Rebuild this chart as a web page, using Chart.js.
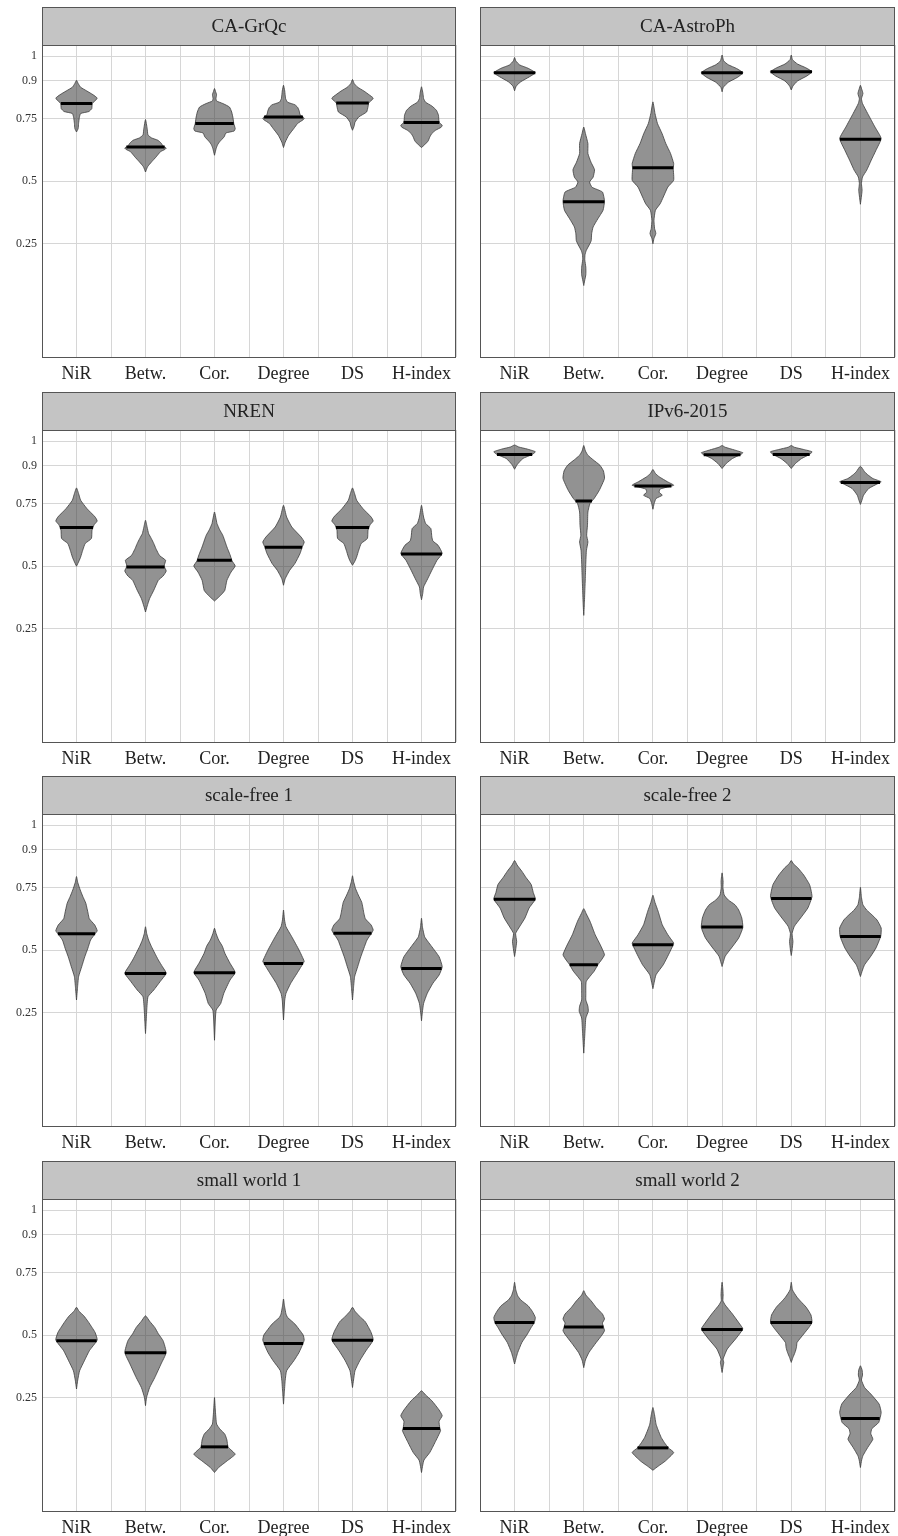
<!DOCTYPE html>
<html>
<head>
<meta charset="utf-8">
<script src="https://cdn.jsdelivr.net/npm/chart.js@4.4.1/dist/chart.umd.min.js"></script>
<style>
  body { margin: 0; background: #fff; overflow: hidden; }
  #wrap { position: relative; width: 898px; height: 1536px; }
  #wrap canvas { position: absolute; }
</style>
</head>
<body>
<div id="wrap"></div>
<script>
// categories and y ticks
const metrics = ['NiR', 'Betw.', 'Cor.', 'Degree', 'DS', 'H-index'];
const yTickValues = [0.25, 0.5, 0.75, 0.9, 1];
const yTickLabels = ['0.25', '0.5', '0.75', '0.9', '1'];
const panelTitles = ['CA-GrQc', 'CA-AstroPh', 'NREN', 'IPv6-2015', 'scale-free 1', 'scale-free 2', 'small world 1', 'small world 2'];

// violin outlines: [value, relative density], bottom tip -> top tip
const grqcShapes = [
  [[0.696,0],[0.71,0.08],[0.73,0.1],[0.755,0.14],[0.77,0.2],[0.778,0.6],[0.79,0.74],[0.81,0.76],[0.825,0.95],[0.832,1.0],[0.845,0.8],[0.86,0.5],[0.875,0.2],[0.89,0.08],[0.903,0]],
  [[0.536,0],[0.557,0.1],[0.577,0.3],[0.597,0.52],[0.617,0.72],[0.627,0.95],[0.632,1.0],[0.64,0.85],[0.652,0.75],[0.663,0.6],[0.672,0.3],[0.684,0.12],[0.71,0.08],[0.746,0]],
  [[0.603,0],[0.63,0.08],[0.645,0.15],[0.657,0.25],[0.677,0.47],[0.692,0.55],[0.70,0.95],[0.71,1.0],[0.73,0.93],[0.75,0.9],[0.776,0.83],[0.796,0.72],[0.81,0.4],[0.82,0.1],[0.83,0.07],[0.845,0.1],[0.858,0.05],[0.870,0]],
  [[0.634,0],[0.655,0.08],[0.683,0.25],[0.71,0.5],[0.73,0.68],[0.745,0.95],[0.752,1.0],[0.765,0.8],[0.78,0.76],[0.795,0.68],[0.805,0.55],[0.815,0.2],[0.83,0.1],[0.86,0.06],[0.883,0]],
  [[0.703,0],[0.72,0.08],[0.735,0.12],[0.756,0.3],[0.776,0.68],[0.797,0.75],[0.812,0.78],[0.825,0.95],[0.832,1.0],[0.845,0.8],[0.86,0.55],[0.875,0.25],[0.89,0.08],[0.906,0]],
  [[0.634,0],[0.645,0.15],[0.66,0.32],[0.676,0.4],[0.69,0.5],[0.703,0.68],[0.715,0.95],[0.723,1.0],[0.735,0.85],[0.763,0.82],[0.783,0.72],[0.80,0.5],[0.815,0.2],[0.83,0.1],[0.85,0.07],[0.877,0]]
];
const grqcMedians = [0.81, 0.636, 0.730, 0.756, 0.8125, 0.734];

const astroShapes = [
  [[0.861,0],[0.88,0.08],[0.897,0.3],[0.917,0.72],[0.933,1.0],[0.951,0.65],[0.964,0.25],[0.98,0.06],[0.994,0]],
  [[0.082,0],[0.10,0.04],[0.125,0.1],[0.155,0.1],[0.185,0.05],[0.205,0.06],[0.222,0.12],[0.25,0.3],[0.262,0.36],[0.289,0.38],[0.316,0.45],[0.349,0.68],[0.383,0.93],[0.42,1.0],[0.456,0.9],[0.475,0.4],[0.496,0.28],[0.515,0.45],[0.545,0.52],[0.575,0.35],[0.610,0.2],[0.650,0.2],[0.690,0.08],[0.716,0]],
  [[0.249,0],[0.27,0.05],[0.29,0.14],[0.31,0.08],[0.343,0.05],[0.383,0.12],[0.409,0.35],[0.436,0.5],[0.476,0.72],[0.503,1.0],[0.55,0.98],[0.57,1.0],[0.61,0.85],[0.65,0.62],[0.69,0.44],[0.73,0.22],[0.77,0.1],[0.8165,0]],
  [[0.857,0],[0.875,0.06],[0.895,0.3],[0.915,0.75],[0.933,1.0],[0.95,0.7],[0.965,0.3],[0.98,0.08],[1.004,0]],
  [[0.864,0],[0.88,0.08],[0.9,0.3],[0.92,0.75],[0.937,1.0],[0.953,0.7],[0.968,0.3],[0.985,0.06],[1.004,0]],
  [[0.407,0],[0.44,0.05],[0.463,0.08],[0.49,0.05],[0.516,0.1],[0.543,0.3],[0.583,0.52],[0.623,0.75],[0.67,1.0],[0.716,0.7],[0.77,0.35],[0.81,0.1],[0.829,0.05],[0.85,0.12],[0.868,0.06],[0.883,0]]
];
const astroMedians = [0.933, 0.4175, 0.5535, 0.933, 0.937, 0.6675];

const nrenShapes = [
  [[0.499,0],[0.52,0.12],[0.536,0.2],[0.563,0.3],[0.59,0.42],[0.61,0.72],[0.643,0.75],[0.665,0.85],[0.68,1.0],[0.696,0.9],[0.73,0.5],[0.763,0.2],[0.79,0.1],[0.8125,0]],
  [[0.316,0],[0.34,0.08],[0.37,0.2],[0.403,0.4],[0.443,0.62],[0.46,0.85],[0.48,1.0],[0.50,0.9],[0.523,0.97],[0.54,0.7],[0.55,0.62],[0.57,0.5],[0.59,0.4],[0.61,0.28],[0.63,0.15],[0.655,0.08],[0.683,0]],
  [[0.36,0],[0.375,0.2],[0.39,0.38],[0.403,0.5],[0.443,0.6],[0.476,0.8],[0.5,1.0],[0.52,0.85],[0.545,0.75],[0.576,0.6],[0.6,0.5],[0.623,0.4],[0.645,0.25],[0.67,0.12],[0.716,0]],
  [[0.423,0],[0.449,0.08],[0.483,0.3],[0.51,0.55],[0.55,0.8],[0.575,0.9],[0.596,1.0],[0.616,0.85],[0.656,0.4],[0.696,0.15],[0.743,0]],
  [[0.503,0],[0.52,0.12],[0.536,0.2],[0.563,0.3],[0.59,0.42],[0.61,0.72],[0.643,0.75],[0.665,0.85],[0.68,1.0],[0.696,0.9],[0.73,0.5],[0.763,0.2],[0.79,0.1],[0.8125,0]],
  [[0.365,0],[0.39,0.06],[0.416,0.1],[0.449,0.3],[0.483,0.5],[0.523,0.75],[0.55,1.0],[0.583,0.8],[0.60,0.55],[0.616,0.5],[0.65,0.45],[0.67,0.2],[0.696,0.1],[0.743,0]]
];
const nrenMedians = [0.654, 0.496, 0.523, 0.575, 0.654, 0.5485];

const ipv6Shapes = [
  [[0.887,0],[0.905,0.12],[0.93,0.4],[0.946,0.85],[0.957,1.0],[0.968,0.6],[0.976,0.2],[0.984,0]],
  [[0.3025,0],[0.35,0.03],[0.396,0.05],[0.463,0.08],[0.516,0.1],[0.563,0.13],[0.596,0.2],[0.623,0.14],[0.663,0.18],[0.716,0.2],[0.75,0.3],[0.77,0.5],[0.803,0.75],[0.85,1.0],[0.88,0.95],[0.903,0.78],[0.925,0.45],[0.943,0.2],[0.96,0.08],[0.982,0]],
  [[0.727,0],[0.75,0.06],[0.77,0.15],[0.783,0.45],[0.795,0.3],[0.808,0.35],[0.823,1.0],[0.837,0.7],[0.857,0.3],[0.87,0.12],[0.886,0]],
  [[0.89,0],[0.91,0.2],[0.93,0.5],[0.946,0.9],[0.953,1.0],[0.964,0.6],[0.975,0.15],[0.982,0]],
  [[0.89,0],[0.91,0.2],[0.93,0.5],[0.947,0.9],[0.957,1.0],[0.966,0.6],[0.975,0.15],[0.982,0]],
  [[0.7465,0],[0.765,0.08],[0.783,0.15],[0.81,0.4],[0.83,0.85],[0.837,1.0],[0.85,0.6],[0.865,0.35],[0.877,0.2],[0.8995,0]]
];
const ipv6Medians = [0.946, 0.760, 0.8205, 0.9455, 0.9465, 0.8345];

const sf1Shapes = [
  [[0.30,0],[0.35,0.05],[0.393,0.1],[0.433,0.25],[0.473,0.4],[0.507,0.55],[0.54,0.68],[0.565,0.9],[0.577,1.0],[0.60,0.88],[0.625,0.62],[0.647,0.56],[0.687,0.45],[0.715,0.3],[0.74,0.18],[0.77,0.06],[0.794,0]],
  [[0.166,0],[0.21,0.03],[0.26,0.06],[0.313,0.12],[0.34,0.4],[0.373,0.7],[0.407,1.0],[0.433,0.82],[0.46,0.62],[0.487,0.45],[0.515,0.28],[0.54,0.15],[0.565,0.06],[0.593,0]],
  [[0.139,0],[0.18,0.02],[0.22,0.04],[0.26,0.08],[0.286,0.3],[0.327,0.45],[0.38,0.75],[0.41,1.0],[0.447,0.75],[0.487,0.5],[0.515,0.38],[0.54,0.2],[0.565,0.08],[0.587,0]],
  [[0.22,0],[0.26,0.03],[0.3,0.06],[0.327,0.12],[0.367,0.35],[0.413,0.7],[0.447,0.95],[0.455,1.0],[0.50,0.75],[0.553,0.4],[0.593,0.12],[0.62,0.05],[0.66,0]],
  [[0.30,0],[0.35,0.05],[0.393,0.1],[0.433,0.25],[0.473,0.4],[0.507,0.55],[0.54,0.7],[0.567,0.92],[0.58,1.0],[0.60,0.9],[0.625,0.62],[0.647,0.55],[0.69,0.45],[0.72,0.28],[0.745,0.15],[0.775,0.05],[0.797,0]],
  [[0.217,0],[0.25,0.04],[0.286,0.1],[0.327,0.28],[0.367,0.55],[0.40,0.85],[0.433,1.0],[0.473,0.85],[0.513,0.5],[0.535,0.3],[0.553,0.15],[0.59,0.05],[0.627,0]]
];
const sf1Medians = [0.565, 0.4065, 0.409, 0.4465, 0.567, 0.4265];

const sf2Shapes = [
  [[0.474,0],[0.50,0.05],[0.534,0.1],[0.566,0.05],[0.588,0.2],[0.628,0.5],[0.668,0.7],[0.703,1.0],[0.73,0.9],[0.762,0.8],[0.79,0.55],[0.815,0.35],[0.84,0.12],[0.858,0]],
  [[0.0875,0],[0.13,0.03],[0.175,0.06],[0.228,0.1],[0.255,0.22],[0.275,0.2],[0.30,0.1],[0.321,0.1],[0.374,0.12],[0.415,0.5],[0.441,0.68],[0.46,0.85],[0.481,1.0],[0.52,0.8],[0.561,0.55],[0.615,0.3],[0.645,0.12],[0.6655,0]],
  [[0.3455,0],[0.37,0.06],[0.401,0.15],[0.441,0.5],[0.481,0.75],[0.521,0.98],[0.528,1.0],[0.561,0.72],[0.601,0.45],[0.655,0.25],[0.69,0.1],[0.719,0]],
  [[0.434,0],[0.475,0.15],[0.508,0.45],[0.548,0.8],[0.59,1.0],[0.628,0.95],[0.66,0.8],[0.681,0.62],[0.70,0.3],[0.72,0.1],[0.75,0.04],[0.775,0.05],[0.8085,0]],
  [[0.478,0],[0.50,0.04],[0.534,0.08],[0.566,0.04],[0.595,0.15],[0.628,0.45],[0.668,0.8],[0.713,1.0],[0.74,0.95],[0.762,0.88],[0.80,0.6],[0.83,0.3],[0.845,0.1],[0.858,0]],
  [[0.394,0],[0.42,0.1],[0.441,0.2],[0.475,0.5],[0.508,0.75],[0.555,0.98],[0.588,1.0],[0.62,0.8],[0.641,0.55],[0.66,0.3],[0.681,0.12],[0.71,0.05],[0.751,0]]
];
const sf2Medians = [0.703, 0.441, 0.521, 0.592, 0.7065, 0.5545];

const sw1Shapes = [
  [[0.284,0],[0.32,0.06],[0.357,0.15],[0.397,0.38],[0.437,0.62],[0.48,1.0],[0.51,0.9],[0.53,0.75],[0.555,0.55],[0.577,0.35],[0.595,0.12],[0.611,0]],
  [[0.2175,0],[0.25,0.05],[0.29,0.2],[0.33,0.45],[0.384,0.75],[0.43,1.0],[0.477,0.85],[0.505,0.62],[0.53,0.45],[0.555,0.2],[0.577,0]],
  [[-0.05,0],[-0.03,0.2],[-0.004,0.6],[0.023,1.0],[0.04,0.8],[0.053,0.65],[0.08,0.6],[0.103,0.5],[0.125,0.25],[0.144,0.1],[0.2,0.04],[0.25,0]],
  [[0.2235,0],[0.27,0.04],[0.317,0.08],[0.357,0.15],[0.397,0.5],[0.43,0.75],[0.467,0.95],[0.48,1.0],[0.50,0.95],[0.544,0.55],[0.57,0.2],[0.584,0.12],[0.615,0.05],[0.644,0]],
  [[0.29,0],[0.32,0.05],[0.357,0.12],[0.397,0.35],[0.437,0.65],[0.48,1.0],[0.51,0.9],[0.53,0.78],[0.555,0.6],[0.57,0.4],[0.595,0.12],[0.611,0]],
  [[-0.05,0],[-0.02,0.06],[0.0,0.12],[0.03,0.4],[0.07,0.65],[0.117,0.92],[0.13,0.88],[0.155,0.85],[0.177,1.0],[0.2,0.85],[0.237,0.5],[0.26,0.2],[0.277,0]]
];
const sw1Medians = [0.477, 0.429, 0.0525, 0.4665, 0.479, 0.126];

const sw2Shapes = [
  [[0.384,0],[0.41,0.08],[0.43,0.15],[0.47,0.35],[0.504,0.62],[0.53,0.8],[0.55,0.95],[0.57,1.0],[0.595,0.85],[0.617,0.65],[0.64,0.3],[0.657,0.15],[0.68,0.06],[0.711,0]],
  [[0.3695,0],[0.40,0.08],[0.43,0.25],[0.47,0.6],[0.50,0.88],[0.517,1.0],[0.532,0.95],[0.548,0.9],[0.564,1.0],[0.584,0.9],[0.61,0.6],[0.637,0.35],[0.66,0.1],[0.6775,0]],
  [[-0.041,0],[-0.025,0.25],[-0.004,0.6],[0.03,1.0],[0.048,0.75],[0.07,0.55],[0.09,0.4],[0.12,0.25],[0.1435,0.15],[0.18,0.08],[0.21,0]],
  [[0.35,0],[0.375,0.05],[0.39,0.08],[0.404,0.05],[0.444,0.25],[0.484,0.65],[0.524,1.0],[0.544,0.85],[0.584,0.5],[0.62,0.15],[0.637,0.04],[0.66,0.05],[0.69,0.03],[0.711,0]],
  [[0.3905,0],[0.41,0.08],[0.43,0.18],[0.45,0.25],[0.47,0.28],[0.504,0.6],[0.53,0.85],[0.55,1.0],[0.58,0.95],[0.611,0.72],[0.635,0.45],[0.651,0.28],[0.68,0.06],[0.711,0]],
  [[-0.03,0],[0.0,0.06],[0.017,0.12],[0.05,0.35],[0.083,0.6],[0.105,0.5],[0.125,0.55],[0.15,0.88],[0.19,1.0],[0.224,0.9],[0.264,0.5],[0.29,0.2],[0.32,0.05],[0.34,0.1],[0.36,0.08],[0.377,0]]
];
const sw2Medians = [0.5505, 0.532, 0.0485, 0.5225, 0.5505, 0.166];

const panelShapes = [grqcShapes, astroShapes, nrenShapes, ipv6Shapes, sf1Shapes, sf2Shapes, sw1Shapes, sw2Shapes];
const panelMedians = [grqcMedians, astroMedians, nrenMedians, ipv6Medians, sf1Medians, sf2Medians, sw1Medians, sw2Medians];

// look & layout
const maxHalf = 0.3;          // half violin width, in category units
const serif = '"Liberation Serif", "Times New Roman", serif';
const rowStep = 384.5;
const headerH = 38;

// density at a value, linear between outline points
function widthAt(shape, v) {
  for (let k = 1; k < shape.length; k++) {
    const a = shape[k - 1], b = shape[k];
    if (v >= a[0] && v <= b[0]) {
      return a[1] + (b[1] - a[1]) * (v - a[0]) / (b[0] - a[0]);
    }
  }
  return 0;
}

function outline(shape, c) {
  const pts = shape.map(p => ({x: c + p[1] * maxHalf, y: p[0]}));
  for (let k = shape.length - 2; k >= 0; k--) {
    pts.push({x: c - shape[k][1] * maxHalf, y: shape[k][0]});
  }
  return pts;
}

// gray header strip with the title, and the frame round the plot
const stripPlugin = {
  id: 'strip',
  beforeDraw(chart, args, opts) {
    const {ctx, chartArea: a} = chart;
    ctx.save();
    ctx.fillStyle = '#c4c4c4';
    ctx.fillRect(a.left, a.top - headerH, a.right - a.left, headerH);
    ctx.strokeStyle = '#555';
    ctx.lineWidth = 1;
    ctx.strokeRect(a.left + 0.5, a.top - headerH + 0.5, a.right - a.left - 1, headerH);
    ctx.fillStyle = '#222';
    ctx.font = '19px ' + serif;
    ctx.textAlign = 'center';
    ctx.textBaseline = 'middle';
    ctx.fillText(opts.title, (a.left + a.right) / 2, a.top - headerH / 2 + 1);
    ctx.restore();
  },
  afterDraw(chart) {
    const {ctx, chartArea: a} = chart;
    ctx.save();
    ctx.strokeStyle = '#555';
    ctx.lineWidth = 1;
    ctx.strokeRect(a.left + 0.5, a.top + 0.5, a.right - a.left - 1, a.bottom - a.top);
    ctx.restore();
  }
};

const wrap = document.getElementById('wrap');

panelTitles.forEach((title, p) => {
  const col = p % 2, row = Math.floor(p / 2);
  const canvas = document.createElement('canvas');
  const cw = col === 0 ? 460 : 449;
  canvas.width = cw;
  canvas.height = 384;
  canvas.style.left = (col === 0 ? 0 : 449) + 'px';
  canvas.style.top = Math.round(row * rowStep) + 'px';
  wrap.appendChild(canvas);

  const yWidth = col === 0 ? 42 : 31;
  const padRight = col === 0 ? 4 : 3;

  const shapes = panelShapes[p];
  const medians = panelMedians[p];
  const medianSets = medians.map((m, i) => {
    const c = i + 0.5;
    const hw = widthAt(shapes[i], m) * maxHalf;
    return {
      data: [{x: c - hw, y: m}, {x: c + hw, y: m}],
      showLine: true,
      borderColor: '#000',
      borderWidth: 3,
      pointRadius: 0,
      fill: false,
      order: 0
    };
  });
  const violinSets = shapes.map((s, i) => ({
    data: outline(s, i + 0.5),
    showLine: true,
    borderColor: '#3c3c3c',
    borderWidth: 0.8,
    backgroundColor: 'rgba(60,60,60,0.56)',
    fill: 'shape',
    pointRadius: 0,
    tension: 0.15,
    order: 1
  }));

  new Chart(canvas, {
    type: 'scatter',
    data: {datasets: medianSets.concat(violinSets)},
    options: {
      responsive: false,
      animation: false,
      events: [],
      layout: {padding: {top: 45, right: padRight, left: 0, bottom: 0}},
      plugins: {
        legend: {display: false},
        tooltip: {enabled: false},
        strip: {title: title}
      },
      scales: {
        x: {
          type: 'linear',
          min: 0,
          max: 6,
          afterBuildTicks: (scale) => {
            const t = [];
            for (let k = 0; k <= 12; k++) t.push({value: k / 2});
            scale.ticks = t;
          },
          afterFit: (scale) => { scale.height = 27; },
          border: {display: false},
          grid: {color: '#d6d6d6', lineWidth: 1, drawTicks: true, tickLength: 6, tickColor: 'rgba(0,0,0,0)'},
          ticks: {
            autoSkip: false,
            maxRotation: 0,
            padding: 0,
            color: '#222',
            font: {family: serif, size: 18},
            callback: (v) => {
              const i = v - 0.5;
              return Number.isInteger(i) ? metrics[i] : '';
            }
          }
        },
        y: {
          type: 'linear',
          min: -0.204,
          max: 1.044,
          afterBuildTicks: (scale) => {
            scale.ticks = yTickValues.map(v => ({value: v}));
          },
          afterFit: (scale) => { scale.width = yWidth; },
          border: {display: false},
          grid: {color: '#d6d6d6', lineWidth: 1, drawTicks: false},
          ticks: {
            display: col === 0,
            padding: 5,
            color: '#333',
            font: {family: serif, size: 12},
            callback: (v, i) => yTickLabels[i]
          }
        }
      }
    },
    plugins: [stripPlugin]
  });
});
</script>
</body>
</html>
